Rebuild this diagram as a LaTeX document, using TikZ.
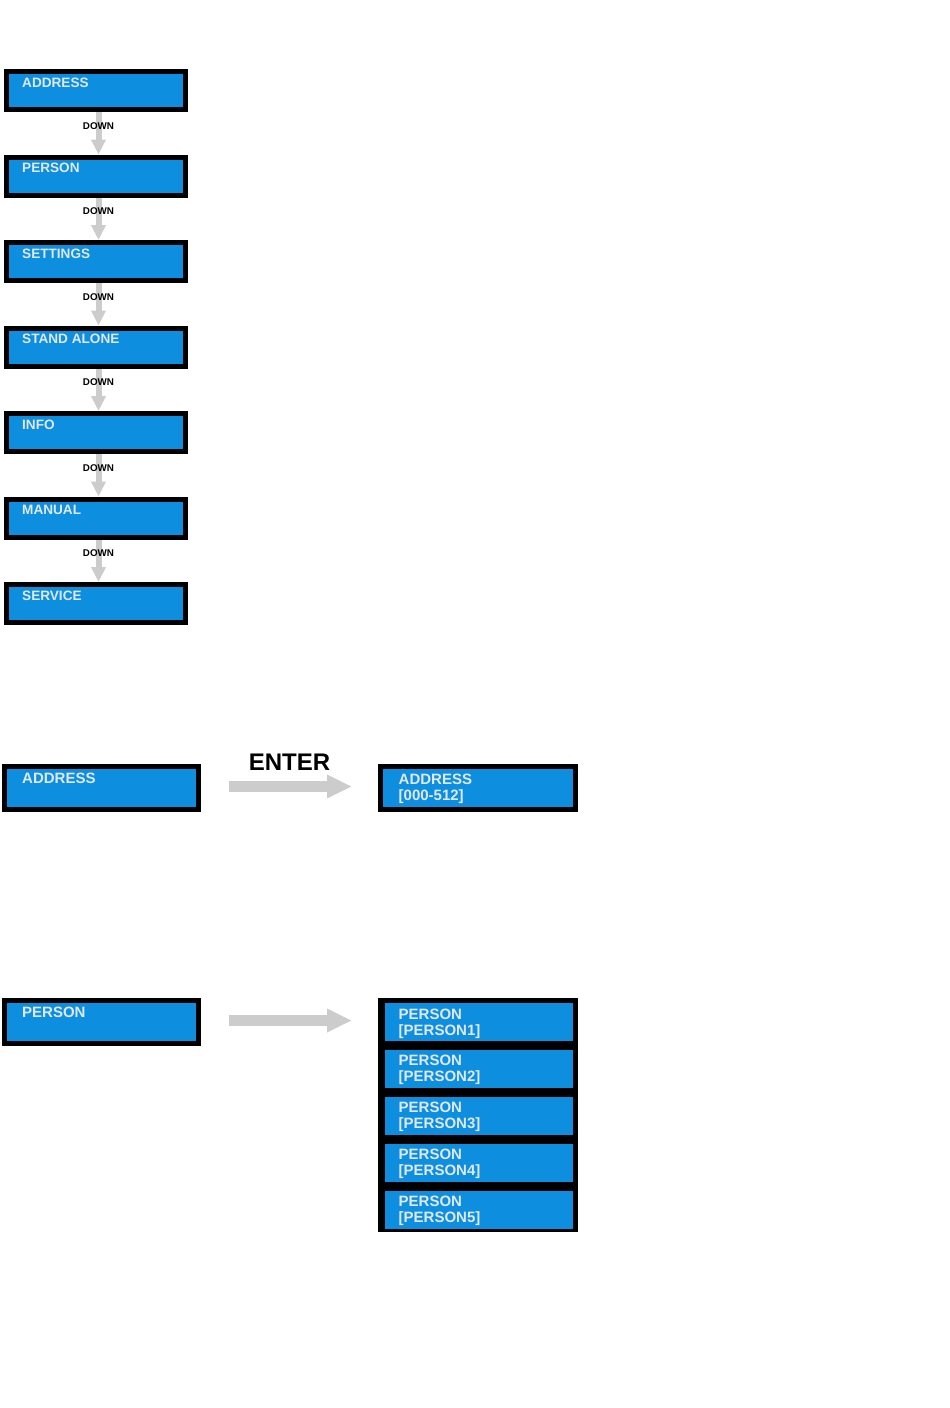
\documentclass[tikz,border=0pt]{standalone}
\usepackage{fontspec}
\setmainfont{Liberation Sans}
\usetikzlibrary{arrows.meta}
\definecolor{lcdblue}{RGB}{14,142,222}
\definecolor{lcdtext}{RGB}{224,232,242}
\definecolor{arrgray}{RGB}{204,204,204}
\begin{document}
\begin{tikzpicture}[x=1pt,y=-1pt,
  lcd/.style={draw=black, fill=lcdblue, line width=5pt, inner sep=0pt},
  lcdinner/.style={fill=lcdblue, inner sep=0pt, outer sep=0pt},
  stackbox/.style={fill=black, inner sep=0pt, outer sep=0pt},
  toplabel/.style={text=lcdtext, font=\bfseries\fontsize{13.6}{15}\selectfont, inner sep=0pt, anchor=base west},
  biglabel/.style={text=lcdtext, font=\bfseries\fontsize{15}{17}\selectfont, inner sep=0pt, anchor=base west},
  downlab/.style={text=black, font=\bfseries\fontsize{9.8}{10}\selectfont, inner sep=0pt},
  downarr/.style={draw=arrgray, line width=6pt, -{Triangle[length=15pt,width=14pt]}},
  rightarr/.style={draw=arrgray, line width=11pt, -{Triangle[length=25pt,width=22pt]}},
  enterlab/.style={text=black, font=\bfseries\fontsize{24}{26}\selectfont, inner sep=0pt, anchor=base}
]
\useasboundingbox (0,0) rectangle (950,1408);
% top menu list
\foreach \t [count=\i from 0] in {ADDRESS,PERSON,SETTINGS,STAND ALONE,INFO,MANUAL,SERVICE} {
  \node[lcd, minimum width=179pt, minimum height=38pt] (m\i) at (96, 90.5+85.5*\i) {};
  \node[toplabel] (t\i) at (22, 87+85.5*\i) {\t};
}
\foreach \i in {0,...,5} {
  \pgfmathtruncatemacro\j{\i+1}
  \draw[downarr] ([xshift=2.5pt]m\i.south) -- node[pos=0.33, downlab] (d\i) {DOWN} ([xshift=2.5pt]m\j.north);
}
% ADDRESS -> ENTER
\node[lcd, minimum width=194pt, minimum height=43pt] (addr) at (101.5,788) {};
\node[biglabel] (addrt) at (22,783.5) {ADDRESS};
\node[lcd, minimum width=195pt, minimum height=43pt] (addrv) at (478,788) {};
\node[biglabel] (addrv1) at (398.5,784) {ADDRESS};
\node[biglabel] (addrv2) at (398.5,800) {[000-512]};
\node[enterlab] (enter) at (289.5,770.5) {ENTER};
\draw[rightarr] ([xshift=28pt,yshift=1.5pt]addr.east) -- ([xshift=-26pt,yshift=1.5pt]addrv.west);
% PERSON
\node[lcd, minimum width=194pt, minimum height=43pt] (pl) at (101.5,1022) {};
\node[biglabel] (plt) at (22,1017.5) {PERSON};
\node[stackbox, minimum width=200pt, minimum height=234pt] (stack) at (478,1115) {};
\foreach \i in {1,...,5} {
  \node[lcdinner, minimum width=188pt, minimum height=38pt] (p\i) at (479, 1022+46.9*\i-46.9) {};
  \node[biglabel] (pa\i) at (398.5, 1019+46.9*\i-46.9) {PERSON};
  \node[biglabel] (pb\i) at (398.5, 1035+46.9*\i-46.9) {[PERSON\i]};
}
\coordinate (pend) at ([yshift=1.5pt]pl.east -| stack.west);
\draw[rightarr] ([xshift=28pt,yshift=1.5pt]pl.east) -- ([xshift=-26pt]pend);
\end{tikzpicture}
\end{document}
